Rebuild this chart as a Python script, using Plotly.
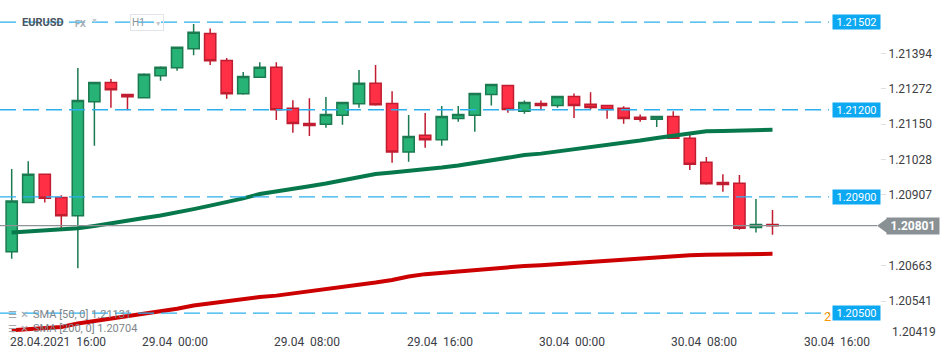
import plotly.graph_objects as go

# ---------------- data ----------------
x_tick_pos = [0, 8, 16, 24, 32, 40, 48]
x_tick_text = ["28.04.2021&nbsp; 16:00", "29.04&nbsp; 00:00", "29.04&nbsp; 08:00", "29.04&nbsp; 16:00",
               "30.04&nbsp; 00:00", "30.04&nbsp; 08:00", "30.04&nbsp; 16:00"]

open_ = [1.20711, 1.20881, 1.20978, 1.20898, 1.20835, 1.21228, 1.21294, 1.21253, 1.21241, 1.21317,
         1.21345, 1.21410, 1.21463, 1.21370, 1.21255, 1.21312, 1.21346, 1.21205, 1.21153, 1.21150,
         1.21181, 1.21221, 1.21291, 1.21222, 1.21055, 1.21112, 1.21097, 1.21170, 1.21181, 1.21253,
         1.21284, 1.21195, 1.21222, 1.21215, 1.21246, 1.21219, 1.21215, 1.21205, 1.21174, 1.21167,
         1.21177, 1.21102, 1.21019, 1.20950, 1.20947, 1.20795, 1.20805]
high = [1.20996, 1.21023, 1.20980, 1.20906, 1.21344, 1.21296, 1.21306, 1.21254, 1.21326, 1.21350,
        1.21416, 1.21495, 1.21480, 1.21378, 1.21330, 1.21364, 1.21364, 1.21233, 1.21240, 1.21244,
        1.21227, 1.21337, 1.21354, 1.21264, 1.21182, 1.21189, 1.21213, 1.21213, 1.21258, 1.21289,
        1.21286, 1.21232, 1.21232, 1.21248, 1.21256, 1.21260, 1.21217, 1.21212, 1.21184, 1.21179,
        1.21195, 1.21122, 1.21037, 1.20978, 1.20975, 1.20893, 1.20855]
low = [1.20687, 1.20879, 1.20881, 1.20790, 1.20654, 1.21076, 1.21207, 1.21198, 1.21240, 1.21300,
       1.21334, 1.21388, 1.21354, 1.21238, 1.21252, 1.21310, 1.21165, 1.21121, 1.21110, 1.21138,
       1.21148, 1.21207, 1.21214, 1.21018, 1.21021, 1.21069, 1.21076, 1.21159, 1.21124, 1.21215,
       1.21190, 1.21186, 1.21198, 1.21207, 1.21172, 1.21200, 1.21169, 1.21152, 1.21159, 1.21141,
       1.21100, 1.20993, 1.20942, 1.20918, 1.20787, 1.20777, 1.20770]
close = [1.20886, 1.20978, 1.20895, 1.20835, 1.21232, 1.21294, 1.21269, 1.21245, 1.21322, 1.21346,
         1.21415, 1.21467, 1.21369, 1.21255, 1.21315, 1.21346, 1.21200, 1.21153, 1.21146, 1.21184,
         1.21225, 1.21291, 1.21217, 1.21055, 1.21108, 1.21097, 1.21177, 1.21184, 1.21256, 1.21287,
         1.21201, 1.21225, 1.21215, 1.21246, 1.21215, 1.21208, 1.21201, 1.21170, 1.21167, 1.21177,
         1.21102, 1.21012, 1.20945, 1.20943, 1.20792, 1.20805, 1.20801]
sma50 = [1.20777, 1.20781, 1.20784, 1.20788, 1.20792, 1.20800, 1.20808, 1.20817, 1.20827, 1.20836,
         1.20846, 1.20858, 1.20870, 1.20882, 1.20895, 1.20910, 1.20920, 1.20928, 1.20937, 1.20946,
         1.20958, 1.20969, 1.20979, 1.20984, 1.20989, 1.20994, 1.21001, 1.21008, 1.21017, 1.21029,
         1.21037, 1.21044, 1.21049, 1.21056, 1.21063, 1.21070, 1.21079, 1.21087, 1.21094, 1.21103,
         1.21111, 1.21120, 1.21126, 1.21127, 1.21129, 1.21130, 1.21131]
sma200 = [1.20441, 1.20445, 1.20448, 1.20452, 1.20464, 1.20472, 1.20481, 1.20490, 1.20497, 1.20505,
          1.20515, 1.20526, 1.20534, 1.20541, 1.20548, 1.20555, 1.20560, 1.20567, 1.20574, 1.20581,
          1.20588, 1.20596, 1.20605, 1.20614, 1.20626, 1.20634, 1.20639, 1.20645, 1.20650, 1.20655,
          1.20658, 1.20662, 1.20665, 1.20669, 1.20672, 1.20676, 1.20679, 1.20683, 1.20686, 1.20691,
          1.20695, 1.20699, 1.20701, 1.20702, 1.20703, 1.20704, 1.20704]
candle_idx = list(range(len(close)))

levels = [1.21502, 1.21200, 1.20900, 1.20500]
last_price = 1.20801
y_ticks = [1.21394, 1.21272, 1.21150, 1.21028, 1.20907, 1.20663, 1.20541]
bottom_tick = 1.20419

assert all(len(a) == 47 for a in [open_, high, low, close, sma50, sma200])

# ---------------- figure ----------------
W, H = 950, 361
ML, MR, MT, MB = 0, 70, 0, 25
PW, PH = W - ML - MR, H - MT - MB
Y_RANGE = [1.20421, 1.21578]
X_RANGE = [-0.707, 52.5]
FONT = "Roboto, 'Noto Sans', sans-serif"

fig = go.Figure()
fig.add_trace(go.Candlestick(
    x=candle_idx, open=open_, high=high, low=low, close=close,
    increasing=dict(line=dict(color="#1c7a51", width=1.5), fillcolor="#27b276"),
    decreasing=dict(line=dict(color="#c01d31", width=1.5), fillcolor="#ff2f46"),
    whiskerwidth=0, showlegend=False, hoverinfo="skip"))
fig.add_trace(go.Scatter(x=candle_idx, y=sma50, mode="lines",
                         line=dict(color="#07784b", width=4), showlegend=False, hoverinfo="skip"))
fig.add_trace(go.Scatter(x=candle_idx, y=sma200, mode="lines",
                         line=dict(color="#cc0000", width=4), showlegend=False, hoverinfo="skip"))

shapes = []
annotations = []

# orange marker partly hidden behind the lowest level label
annotations.append(dict(xref="paper", yref="y", x=822 / PW, y=levels[3], xanchor="left", yanchor="middle",
                        yshift=-3, text="2", showarrow=False, font=dict(family=FONT, size=13, color="#ff9800")))

for lv in levels:
    shapes.append(dict(type="line", xref="paper", yref="y", x0=0, x1=829 / PW, y0=lv, y1=lv,
                       line=dict(color="#2bb0ee", width=1.3, dash="16px,7px"), layer="above"))
    annotations.append(dict(xref="paper", yref="y", x=856.5 / PW, y=lv, xanchor="center", yanchor="middle",
                            text=f"{lv:.5f}", showarrow=False, bgcolor="#0ca8f2", width=45, height=12,
                            borderpad=1, font=dict(family=FONT, size=11, color="white")))

# current price line + label
shapes.append(dict(type="line", xref="paper", yref="y", x0=0, x1=877 / PW, y0=last_price, y1=last_price,
                   line=dict(color="#8d9397", width=1.2), layer="above"))
px_per_unit = PH / (Y_RANGE[1] - Y_RANGE[0])
hh = 8 / px_per_unit
shapes.append(dict(type="path", xref="paper", yref="y",
                   path=f"M {888 / PW},{last_price + hh} L {877 / PW},{last_price} L {888 / PW},{last_price - hh} Z",
                   fillcolor="#8a9195", line=dict(width=0), layer="above"))
annotations.append(dict(xref="paper", yref="y", x=912.5 / PW, y=last_price, xanchor="center", yanchor="middle",
                        text=f"<b>{last_price:.5f}</b>", showarrow=False, bgcolor="#8a9195", width=50,
                        height=14, borderpad=1, font=dict(family=FONT, size=12, color="white")))

annotations.append(dict(xref="paper", yref="paper", x=890 / PW, y=0, xanchor="left", yanchor="middle",
                        yshift=4, text=f"{bottom_tick:.5f}", showarrow=False,
                        font=dict(family=FONT, size=12, color="#3c4043")))

# x axis labels (left aligned on their candle)
for pos, txt in zip(x_tick_pos, x_tick_text):
    annotations.append(dict(xref="x", yref="paper", x=pos, y=0, xanchor="left", yanchor="middle",
                            xshift=-4, yshift=-6, text=txt, showarrow=False,
                            font=dict(family=FONT, size=12, color="#3b4046")))

# header
annotations.append(dict(xref="paper", yref="paper", x=20 / PW, y=1 - 23 / PH, xanchor="left", yanchor="middle",
                        text="<b>EURUSD</b>", showarrow=False, font=dict(family=FONT, size=11, color="#4b5560")))
annotations.append(dict(xref="paper", yref="paper", x=73 / PW, y=1 - 24 / PH, xanchor="left", yanchor="middle",
                        text="<b>FX</b>", showarrow=False, font=dict(family=FONT, size=9, color="#a6adb4")))
annotations.append(dict(xref="paper", yref="paper", x=89 / PW, y=1 - 21 / PH, xanchor="left", yanchor="middle",
                        text="▼", showarrow=False, font=dict(family=FONT, size=7, color="#c3c8cd")))
annotations.append(dict(xref="paper", yref="paper", x=130 / PW, y=1 - 22.5 / PH, xanchor="left", yanchor="middle",
                        text="H1 &nbsp; &nbsp;<span style='font-size:7px;color:#c3c8cd'>▼</span>", showarrow=False,
                        align="left", width=30, height=13, borderpad=1, bordercolor="#e1e4e8", borderwidth=1,
                        font=dict(family=FONT, size=10, color="#8a939a")))

# indicator legend
for i, txt in enumerate(["SMA [50, 0] 1.21131", "SMA [200, 0] 1.20704"]):
    yp = 314 + 14.5 * i
    annotations.append(dict(xref="paper", yref="paper", x=6 / PW, y=1 - yp / PH, xanchor="left", yanchor="middle",
                            text="☰ ✕", showarrow=False, font=dict(family="DejaVu Sans", size=10, color="#a3a8ad")))
    annotations.append(dict(xref="paper", yref="paper", x=31 / PW, y=1 - yp / PH, xanchor="left", yanchor="middle",
                            text=txt, showarrow=False, font=dict(family=FONT, size=11, color="#80868c")))

fig.update_layout(
    width=W, height=H, margin=dict(l=ML, r=MR, t=MT, b=MB),
    paper_bgcolor="white", plot_bgcolor="white", boxgap=0.32, boxgroupgap=0,
    shapes=shapes, annotations=annotations, showlegend=False,
    xaxis=dict(range=X_RANGE, showgrid=False, zeroline=False, showticklabels=False, ticks="",
               rangeslider=dict(visible=False), showline=False, fixedrange=True),
    yaxis=dict(range=Y_RANGE, side="right", showgrid=False, zeroline=False, showline=False,
               tickvals=y_ticks, ticktext=[f"{v:.5f}" for v in y_ticks], ticks="outside", ticklen=5,
               tickcolor="#e0e0e0", tickfont=dict(family=FONT, size=12, color="#3c4043"), fixedrange=True),
)

fig.write_html("out.html", config={"displayModeBar": False},
               post_script="document.body.style.margin='0';document.body.style.overflow='hidden';")
